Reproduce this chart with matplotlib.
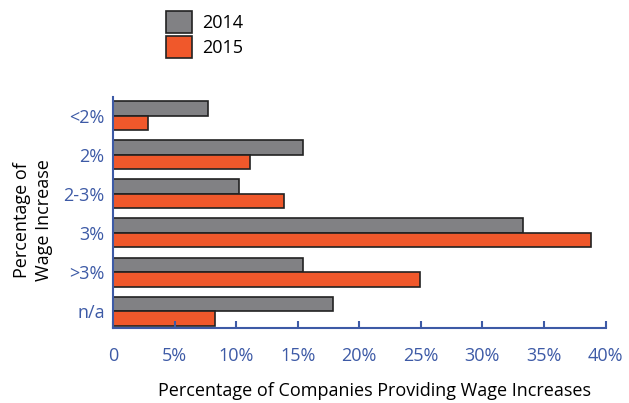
import numpy as np
import matplotlib.pyplot as plt
from matplotlib.patches import Patch

plt.rcParams['font.family'] = ['Open Sans', 'DejaVu Sans']

# Data
categories = ['<2%', '2%', '2-3%', '3%', '>3%', 'n/a']
pct_2014 = [7.7, 15.4, 10.2, 33.3, 15.4, 17.9]
pct_2015 = [2.8, 11.1, 13.9, 38.8, 24.9, 8.3]
xticks = [0, 5, 10, 15, 20, 25, 30, 35, 40]
xtick_labels = ['0', '5%', '10%', '15%', '20%', '25%', '30%', '35%', '40%']

gray = '#818184'
orange = '#f0582b'
edge = '#222222'
blue = '#3d5aa6'

fig = plt.figure(figsize=(6.29, 4.03), dpi=100)
ax = fig.add_axes([0.1797, 0.187, 0.783, 0.572])

y = np.arange(len(categories))
h = 0.37
ax.barh(y - h / 2, pct_2014, height=h, color=gray, edgecolor=edge, linewidth=1.2)
ax.barh(y + h / 2, pct_2015, height=h, color=orange, edgecolor=edge, linewidth=1.2)

ax.set_xlim(0, 40)
ax.set_ylim(5.42, -0.47)
ax.set_yticks(y)
ax.set_yticklabels(categories, color=blue, fontsize=13)
ax.set_xticks(xticks)
ax.set_xticklabels(xtick_labels, color=blue, fontsize=13)
ax.tick_params(axis='y', length=0, pad=6)
ax.tick_params(axis='x', direction='in', length=5, width=1.5, color=blue, pad=14)

for s in ['top', 'right']:
    ax.spines[s].set_visible(False)
for s in ['left', 'bottom']:
    ax.spines[s].set_color(blue)
    ax.spines[s].set_linewidth(1.5)

ax.set_xlabel('Percentage of Companies Providing Wage Increases', fontsize=13)
ax.xaxis.set_label_coords(0.53, -0.235)
ax.set_ylabel('Percentage of\nWage Increase', fontsize=13, linespacing=1.25)
ax.yaxis.set_label_coords(-0.122, 0.465)

handles = [Patch(facecolor=gray, edgecolor=edge, linewidth=1.2, label='2014'),
           Patch(facecolor=orange, edgecolor=edge, linewidth=1.2, label='2015')]
fig.legend(handles=handles, loc='upper left', bbox_to_anchor=(0.246, 1.0), frameon=False,
           fontsize=13, handlelength=1.45, handleheight=1.5, labelspacing=0.2, handletextpad=0.6,
           borderaxespad=0.2)

fig.savefig('out.png', dpi=100)
